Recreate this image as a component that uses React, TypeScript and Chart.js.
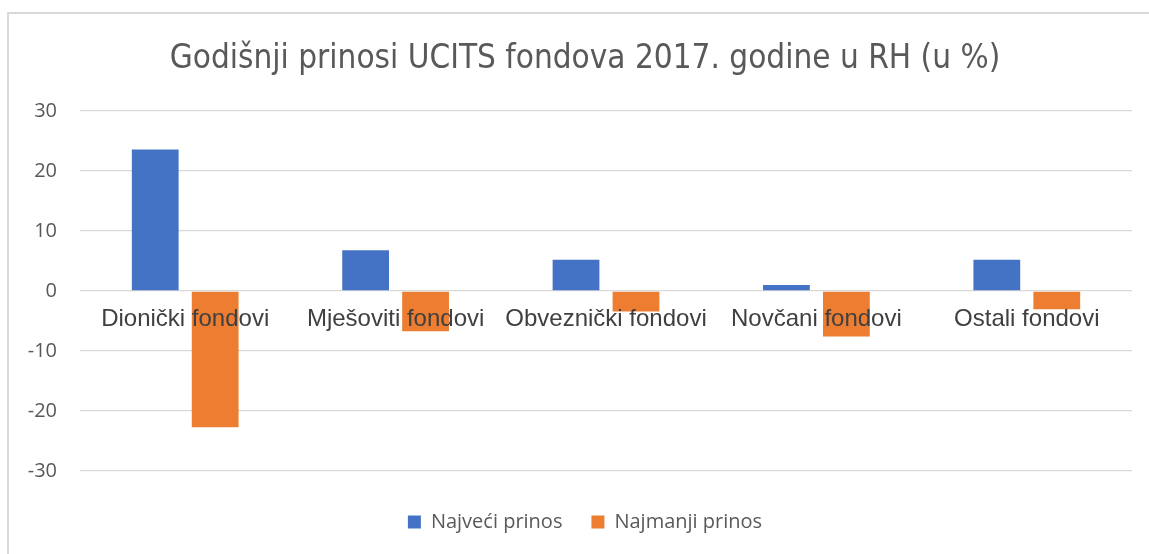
import React, { useEffect, useRef } from "react";
import { Chart, registerables } from "chart.js";

Chart.register(...registerables);

const categories = [
  "Dionički fondovi",
  "Mješoviti fondovi",
  "Obveznički fondovi",
  "Novčani fondovi",
  "Ostali fondovi",
];
const najveciPrinos = [23.6, 6.8, 5.2, 1.0, 5.2];
const najmanjiPrinos = [-22.7, -6.7, -3.4, -7.6, -3.05];
const yTicks = { min: -30, max: 30, step: 10 };
const seriesNames = ["Najveći prinos", "Najmanji prinos"];
const titleText = "Godišnji prinosi UCITS fondova 2017. godine u RH (u %)";

export default function App() {
  const ref = useRef<HTMLCanvasElement | null>(null);

  useEffect(() => {
    if (!ref.current) return;
    const chart = new Chart(ref.current, {
      type: "bar",
      data: {
        labels: categories,
        datasets: [
          {
            label: seriesNames[0],
            data: najveciPrinos,
            backgroundColor: "#4472C4",
            categoryPercentage: 0.57,
            barPercentage: 0.78,
          },
          {
            label: seriesNames[1],
            data: najmanjiPrinos,
            backgroundColor: "#ED7D31",
            categoryPercentage: 0.57,
            barPercentage: 0.78,
          },
        ],
      },
      options: {
        animation: false,
        responsive: false,
        layout: { padding: { left: 21, right: 0, top: 0, bottom: 12 } },
        plugins: {
          tooltip: { enabled: false },
          title: {
            display: true,
            text: titleText,
            color: "#595959",
            font: { family: "'DejaVu Sans Condensed', sans-serif", size: 33, weight: "normal" },
            padding: { top: 40, bottom: 31.4 },
          },
          legend: {
            position: "bottom",
            title: { display: true, text: "", font: { size: 10 }, padding: 0 },
            labels: {
              boxWidth: 13,
              boxHeight: 13,
              padding: 29,
              color: "#595959",
              font: { family: "'Open Sans', sans-serif", size: 20 },
            },
          },
        },
        scales: {
          x: {
            position: { y: 0 },
            grid: { display: false, drawTicks: false },
            border: { display: false },
            ticks: {
              z: 1,
              padding: 14,
              color: "#404040",
              font: { family: "'Liberation Sans', Arial, sans-serif", size: 24 },
              maxRotation: 0,
              autoSkip: false,
            },
          },
          y: {
            position: "left",
            min: yTicks.min,
            max: yTicks.max,
            afterFit: (s: any) => {
              s.width = 59;
            },
            grid: { color: "#d9d9d9", lineWidth: 1.3, drawTicks: false },
            border: { display: false },
            ticks: {
              stepSize: yTicks.step,
              padding: 23,
              color: "#595959",
              font: { family: "'Open Sans', sans-serif", size: 20 },
            },
          },
          y2: {
            position: "right",
            display: true,
            afterFit: (s: any) => {
              s.width = 17;
            },
            grid: { display: false, drawTicks: false },
            border: { display: false },
            ticks: { display: false },
          },
        },
      },
    });
    return () => chart.destroy();
  }, []);

  return (
    <div
      style={{
        position: "fixed",
        left: 0,
        top: 0,
        width: 1149,
        height: 554,
        overflow: "hidden",
        background: "#ffffff",
      }}
    >
      <div
        style={{
          position: "absolute",
          left: 7,
          top: 12,
          width: 1300,
          height: 700,
          borderLeft: "2px solid #d9d9d9",
          borderTop: "2px solid #d9d9d9",
        }}
      />
      <canvas
        ref={ref}
        width={1149}
        height={554}
        style={{ position: "absolute", left: 0, top: 0 }}
      />
    </div>
  );
}
